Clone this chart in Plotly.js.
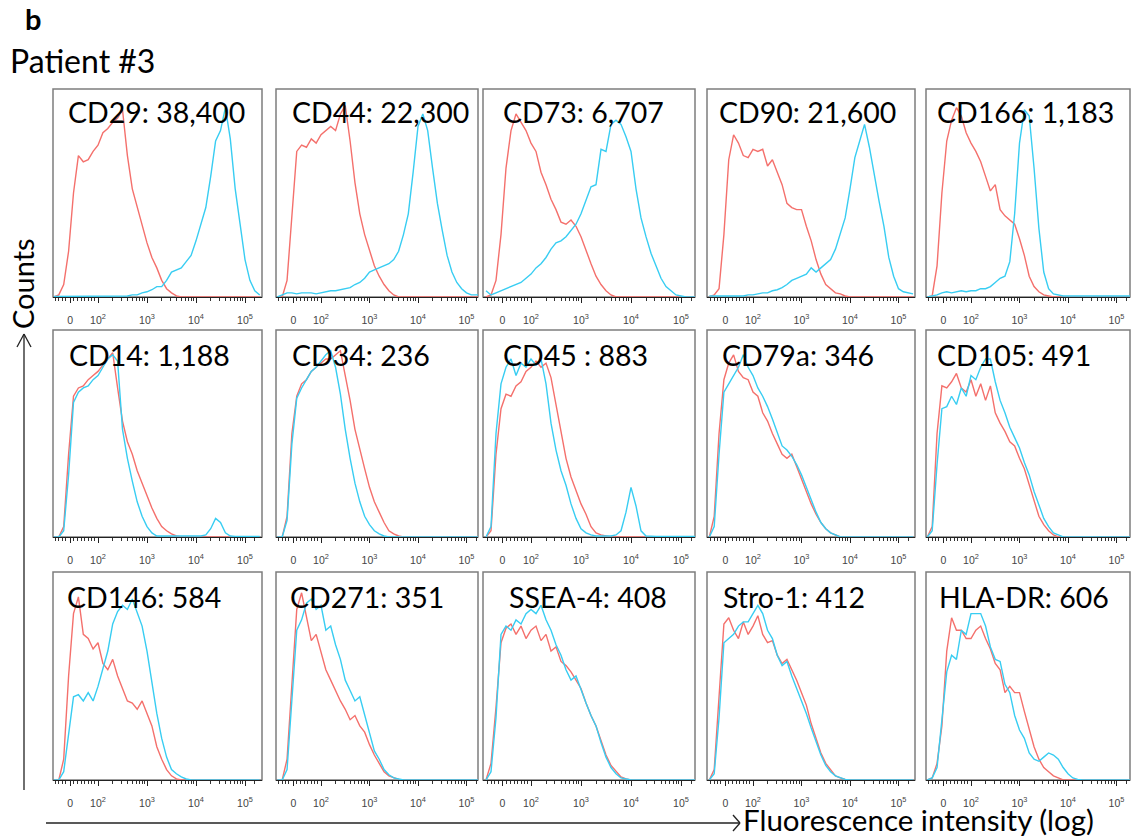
<!DOCTYPE html>
<html><head><meta charset="utf-8">
<script src="https://cdn.plot.ly/plotly-3.0.1.min.js"></script>
<style>html,body{margin:0;padding:0;background:#fff}#chart{width:1132px;height:836px}</style>
</head><body><div id="chart"></div>
<script>
// bin centres on the transformed (biexponential-like) fluorescence axis: 2 = 10^2, 3 = 10^3 ...
const bins = [1.1,1.2,1.3,1.4,1.5,1.6,1.7,1.8,1.9,2.0,2.1,2.2,2.3,2.4,2.5,2.6,2.7,2.8,2.9,3.0,3.1,3.2,3.3,3.4,3.5,3.6,3.7,3.8,3.9,4.0,4.1,4.2,4.3,4.4,4.5,4.6,4.7,4.8,4.9,5.0,5.1,5.2,5.3];
const tickLabels = ["0","10<sup>2</sup>","10<sup>3</sup>","10<sup>4</sup>","10<sup>5</sup>"];
const markerLabels = ["CD29: 38,400","CD44: 22,300","CD73: 6,707","CD90: 21,600","CD166: 1,183",
  "CD14: 1,188","CD34: 236","CD45 : 883","CD79a: 346","CD105: 491",
  "CD146: 584","CD271: 351","SSEA-4: 408","Stro-1: 412","HLA-DR: 606"];

// % of panel height; red = isotype control, cyan = stained
const cd29Red   = [0,1,6,22,50,68,65,66,70,73, 79,81,84,86,90,68,52,43,34,26, 19,14,8,4,2,0.5,0,0,0,0, 0,0,0,0,0,0,0,0,0,0, 0,0,0];
const cd29Cyan  = [0.3,0.3,0.3,0.3,0.3,0.3,0.3,0.3,0.3,0.3, 0.3,0.3,0.3,0.3,0.4,0.5,1,1,2,2.5, 3.5,5,5,8,12,13,14,17,20,27, 35,43,58,75,80,91,76,52,35,18, 8,3,1];
const cd44Red   = [0,0,8,40,70,73,72,76,74,78, 80,82,80,88,92,75,55,40,30,22, 15,10,6,3,1,0,0,0,0,0, 0,0,0,0,0,0,0,0,0,0, 0,0,0];
const cd44Cyan  = [0,1,2,2,1.5,2,2,2,1.5,2, 2.5,3,3,3.5,4,4.5,6,7,9,12, 13,14,15,16,18,22,30,40,60,82, 88,80,62,45,32,20,12,7,4,2, 1,1,1];
const cd73Red   = [0,1,8,30,62,80,88,84,80,74, 70,60,54,47,42,36,35,37,34,29, 22,16,10,6,3,1,0,0,0,0, 0,0,0,0,0,0,0,0,0,0, 0,0,0];
const cd73Cyan  = [3,1,2,3,4,5,6,7,9,11, 14,16,19,23,26,27,29,32,35,40, 47,53,54,71,70,83,85,83,77,70, 52,38,29,21,15,9,5,3,1,0.5, 0,0,0];
const cd90Red   = [0,1,4,30,66,78,74,68,67,71, 70,71,63,66,60,54,45,43,42,42, 34,27,18,11,6,4,2,1.5,0.5,0, 0,0,0,0,0,0,0,0,0,0, 0,0,0];
const cd90Cyan  = [0.5,0.5,0.5,0.5,0.5,0.5,0.5,0.5,1,1, 1.5,2,2,3,3.5,4.5,6,8,9,10, 11,14,12,14,16,18,23,30,38,52, 67,75,83,72,58,46,34,19,10,4, 2.5,2,1.5];
const cd166Red  = [0,0.5,15,50,75,85,91,87,79,74, 70,65,58,51,54,42,39,37,35,28, 20,10,5,2.5,1,0.5,0,0,0,0, 0,0,0,0,0,0,0,0,0,0, 0,0,0];
const cd166Cyan = [0,0.5,1,2,2.5,2,2.5,3,2.5,3, 3,4,4,5,7,9,10,17,40,74, 90,87,62,33,12,4,1.5,1,0.5,0.5, 0.5,0.5,0.5,0.5,0.5,0.5,0.5,0.5,0.5,0.5, 0.5,0.5,0.5];
const cd14Red   = [0,0,5,40,68,72,73,76,78,80, 83,86,89,72,56,46,40,32,26,20, 14,9,5,3,1.5,0.5,0,0,0,0, 0,0,0,0,0,0,0,0,0,0, 0,0,0];
const cd14Cyan  = [0,0,3,30,65,70,72,73,76,78, 82,86,88,85,52,38,27,17,10,5, 2,0.5,0.5,0.5,0.5,0.5,0.5,0.5,0.5,0.5, 0.5,1,4,9,7,2,0.5,0.3,0.3,0.3, 0.3,0.3,0.3];
const cd34Red   = [0,0,10,50,68,74,76,80,82,84, 86,86,88,90,78,66,52,42,33,24, 17,12,7,3,1.5,0.5,0,0,0,0, 0,0,0,0,0,0,0,0,0,0, 0,0,0];
const cd34Cyan  = [0,0,8,45,67,72,76,80,82,85, 88,90,82,69,52,38,26,17,10,6, 3,1.5,0.5,0,0,0,0,0,0,0, 0,0,0,0,0,0,0,0,0,0, 0,0,0];
const cd45Red   = [0,3,40,62,69,68,73,75,80,82, 85,82,84,77,64,50,38,29,22,16, 11,5,2,1,0.5,0,0,0,0,0, 0,0,0,0,0,0,0,0,0,0, 0,0,0];
const cd45Cyan  = [0,5,50,74,82,86,78,84,82,86, 83,86,74,55,42,32,25,16,9,4, 2,1,0.5,0.5,0.5,0.5,1,3,12,24, 15,3,0.5,0.3,0.3,0.3,0.3,0.3,0.3,0.3, 0.3,0.3,0.3];
const cd79aRed  = [0,10,50,76,84,88,80,77,76,70, 68,60,56,50,45,40,38,40,34,28, 22,16,11,7,4,2,1,0,0,0, 0,0,0,0,0,0,0,0,0,0, 0,0,0];
const cd79aCyan = [0,5,40,70,74,78,82,88,82,78, 72,68,63,57,50,44,42,39,35,30, 24,18,12,7,4,2,1,0,0,0, 0,0,0,0,0,0,0,0,0,0, 0,0,0];
const cd105Red  = [0,5,50,73,72,75,79,72,70,76, 68,74,66,73,60,55,51,46,44,38, 33,25,17,10,6,3,1,0,0,0, 0,0,0,0,0,0,0,0,0,0, 0,0,0];
const cd105Cyan = [0,3,35,62,63,68,64,72,68,78, 76,82,86,86,75,66,60,53,48,43, 36,30,22,15,9,5,2,1,0,0, 0,0,0,0,0,0,0,0,0,0, 0,0,0];
const cd146Red  = [0,0,10,50,80,88,70,68,63,66, 56,53,58,50,44,38,37,34,38,32, 26,16,10,5,2,0.5,0,0,0,0, 0,0,0,0,0,0,0,0,0,0, 0,0,0];
const cd146Cyan = [0,0,4,22,40,41,38,42,38,45, 54,62,75,81,84,82,87,80,74,62, 46,32,20,11,5,3,1.5,0.5,0,0, 0,0,0,0,0,0,0,0,0,0, 0,0,0];
const cd271Red  = [0,0,10,45,82,90,78,67,70,62, 53,48,43,38,34,29,31,26,23,17, 12,8,4,2,1,0.3,0,0,0,0, 0,0,0,0,0,0,0,0,0,0, 0,0,0];
const cd271Cyan = [0,0,5,40,72,77,85,87,82,84, 72,74,65,58,48,43,38,40,31,22, 14,10,5,2.5,1,0.5,0,0,0,0, 0,0,0,0,0,0,0,0,0,0, 0,0,0];
const ssea4Red  = [0,8,35,66,73,75,70,74,68,72, 74,67,70,62,64,57,55,52,48,44, 37,31,26,19,12,7,4,1.5,0.5,0, 0,0,0,0,0,0,0,0,0,0, 0,0,0];
const ssea4Cyan = [0,4,30,70,74,72,77,75,80,82, 80,84,77,72,65,60,53,48,50,43, 37,31,26,18,11,6,3,1,0.5,0, 0,0,0,0,0,0,0,0,0,0, 0,0,0];
const stro1Red  = [0,5,40,75,78,72,68,76,70,74, 79,70,66,67,60,56,58,53,48,42, 36,27,20,13,8,5,2,1,0.3,0, 0,0,0,0,0,0,0,0,0,0, 0,0,0];
const stro1Cyan = [0,3,30,66,68,70,74,76,76,80, 84,80,72,68,60,55,57,50,44,38, 32,25,18,12,7,4,2,1,0.3,0, 0,0,0,0,0,0,0,0,0,0, 0,0,0];
const hladrRed  = [0,1,8,26,62,78,72,72,68,68, 72,74,68,63,56,53,42,45,42,42, 33,25,16,10,6,4,2,1,0,0, 0,0,0,0,0,0,0,0,0,0, 0,0,0];
const hladrCyan = [0,1,6,28,52,60,58,72,70,80, 80,80,74,64,58,57,46,42,31,24, 20,13,10,9,11,13,12,10,6,3, 1,0.3,0,0,0,0,0,0,0,0, 0,0,0];

const redSeries  = [cd29Red,cd44Red,cd73Red,cd90Red,cd166Red,cd14Red,cd34Red,cd45Red,cd79aRed,cd105Red,cd146Red,cd271Red,ssea4Red,stro1Red,hladrRed];
const cyanSeries = [cd29Cyan,cd44Cyan,cd73Cyan,cd90Cyan,cd166Cyan,cd14Cyan,cd34Cyan,cd45Cyan,cd79aCyan,cd105Cyan,cd146Cyan,cd271Cyan,ssea4Cyan,stro1Cyan,hladrCyan];

// ---- layout geometry (pixels) ----
const W = 1132, H = 836;
const colL = [53,276,483,707,926], colR = [262,478,695,915,1130];
const rowT = [89,330,572], rowB = [297,537,780];
const colP2 = [98,321,531,753,971], colDec = [49,48.5,50,48.5,48.5];
const txtX = [[66,290,501,717,935],[67,290,501,720,935],[65,288,507,721,937]];
const txtY = [112,355,597];
const px = x => x / W, py = y => 1 - y / H;

const majorVals = [1.43,2,3,4,5];
const minorVals = [1.13,1.2,1.27,1.34,1.5,1.58,1.66,1.73,1.8,1.86,1.92];
[2,3,4].forEach(d => { for (let k = 2; k <= 9; k++) minorVals.push(d + Math.log10(k)); });
minorVals.push(5.2);

const RED = '#F4706C', CYAN = '#38CDF2';
const FONT = 'Lato, "Open Sans", sans-serif';

const traces = [], layout = {
  width: W, height: H, margin: {l:0,r:0,t:0,b:0},
  paper_bgcolor: '#fff', plot_bgcolor: 'rgba(0,0,0,0)', showlegend: false,
  shapes: [], annotations: []
};

for (let i = 0; i < 15; i++) {
  const r = Math.floor(i / 5), c = i % 5, n = i + 1;
  const sx = n === 1 ? '' : String(n);
  const L = colL[c], R = colR[c], T = rowT[r], B = rowB[r];
  const x0 = 2 - (colP2[c] - L) / colDec[c], x1 = 2 + (R - colP2[c]) / colDec[c];
  traces.push({x: bins, y: redSeries[i], type: 'scatter', mode: 'lines', xaxis: 'x' + sx, yaxis: 'y' + sx,
    line: {color: RED, width: 1.4}, hoverinfo: 'skip'});
  traces.push({x: bins, y: cyanSeries[i], type: 'scatter', mode: 'lines', xaxis: 'x' + sx, yaxis: 'y' + sx,
    line: {color: CYAN, width: 1.4}, hoverinfo: 'skip'});
  layout['xaxis' + sx] = {
    domain: [px(L), px(R)], range: [x0, x1], anchor: 'y' + sx,
    showline: true, linecolor: '#222', linewidth: 1, showgrid: false, zeroline: false,
    ticks: 'outside', ticklen: 5, tickwidth: 1, tickcolor: '#222',
    tickmode: 'array', tickvals: majorVals, ticktext: tickLabels,
    tickfont: {family: '"Liberation Sans", Arial, sans-serif', size: 10.5, color: '#444'},
    ticklabelstandoff: 8,
    minor: {tickmode: 'array', tickvals: minorVals, ticks: 'outside', ticklen: 3, tickwidth: 1, tickcolor: '#333', showgrid: false},
    fixedrange: true
  };
  layout['yaxis' + sx] = {
    domain: [py(B), py(T)], range: [0, 100], anchor: 'x' + sx,
    showline: false, showgrid: false, zeroline: false, showticklabels: false, ticks: '', fixedrange: true
  };
  layout.shapes.push({type: 'rect', xref: 'paper', yref: 'paper', x0: px(L), x1: px(R), y0: py(B), y1: py(T),
    line: {color: '#7d7d7d', width: 1.5}, layer: 'below'});
  layout.annotations.push({text: markerLabels[i], xref: 'paper', yref: 'paper', x: px(txtX[r][c]), y: py(txtY[r]),
    xanchor: 'left', yanchor: 'middle', showarrow: false, font: {family: FONT, size: 28.5, color: '#000'}});
}

// headings & axis captions
layout.annotations.push({text: '<b>b</b>', xref:'paper', yref:'paper', x: px(23), y: py(19), xanchor:'left', yanchor:'middle', showarrow:false, font:{family: FONT, size: 29, color:'#000'}});
layout.annotations.push({text: 'Patient #3', xref:'paper', yref:'paper', x: px(8), y: py(60), xanchor:'left', yanchor:'middle', showarrow:false, font:{family: FONT, size: 32, color:'#000'}});
layout.annotations.push({text: 'Counts', xref:'paper', yref:'paper', x: px(22), y: py(284), xanchor:'center', yanchor:'middle', textangle: -90, showarrow:false, font:{family: FONT, size: 29, color:'#000'}});
layout.annotations.push({text: 'Fluorescence intensity (log)', xref:'paper', yref:'paper', x: px(741), y: py(819), xanchor:'left', yanchor:'middle', showarrow:false, font:{family: FONT, size: 29.5, color:'#000'}});

// arrows
const ln = (xa, ya, xb, yb) => ({type:'line', xref:'paper', yref:'paper', x0: px(xa), y0: py(ya), x1: px(xb), y1: py(yb), line:{color:'#222', width:1.3}});
layout.shapes.push(ln(24, 790, 24, 334));
layout.shapes.push(ln(17, 347, 24, 334));
layout.shapes.push(ln(31, 347, 24, 334));
layout.shapes.push(ln(46, 823, 740, 823));
layout.shapes.push(ln(733, 815, 740, 823));
layout.shapes.push(ln(733, 831, 740, 823));

Plotly.newPlot('chart', traces, layout, {staticPlot: true, displayModeBar: false});
</script></body></html>
